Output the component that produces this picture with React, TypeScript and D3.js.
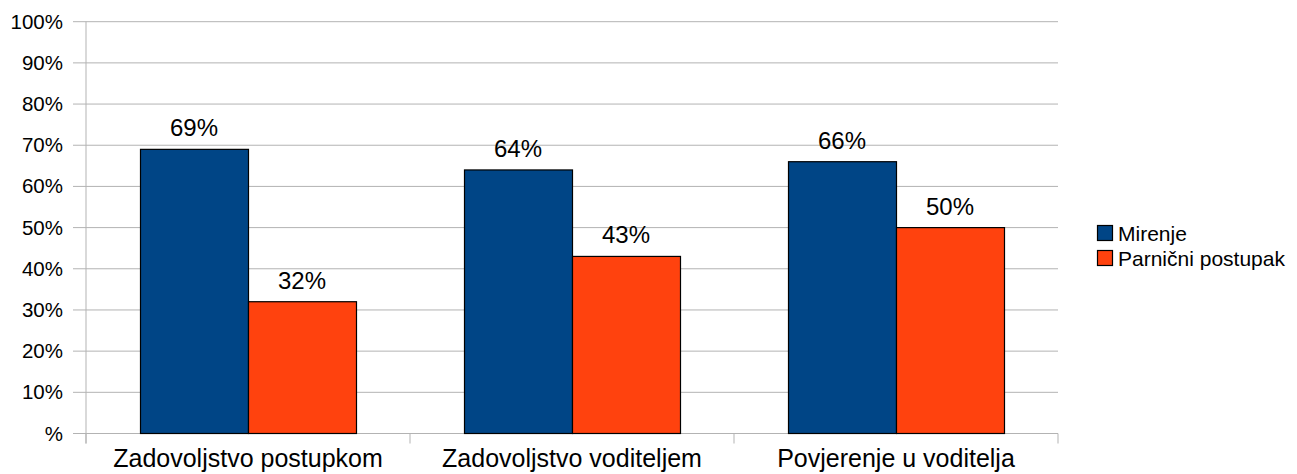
import React, { useRef, useEffect } from "react";
import * as d3 from "d3";

const categories = ["Zadovoljstvo postupkom", "Zadovoljstvo voditeljem", "Povjerenje u voditelja"];
const seriesNames = ["Mirenje", "Parnični postupak"];
const mirenje = [69, 64, 66];
const parnicni = [32, 43, 50];
const yTicks = [0, 10, 20, 30, 40, 50, 60, 70, 80, 90, 100];
const tickLabel = (v: number) => (v === 0 ? "%" : `${v}%`);

const colors = ["#004586", "#ff420e"];
const FONT = "'Liberation Sans', Arial, sans-serif";

const App = () => {
  const svgRef = useRef<SVGSVGElement>(null);

  useEffect(() => {
    const svg = d3.select(svgRef.current);
    svg.selectAll("*").remove();

    const width = 1297;
    const height = 474;
    const left = 86;
    const right = 1058;
    const top = 21.7;
    const bottom = 433.5;
    const grid = "#b3b3b3";

    svg.attr("viewBox", `0 0 ${width} ${height}`);

    const x = d3.scaleBand().domain(categories).range([left, right]);
    const y = d3.scaleLinear().domain([0, 100]).range([bottom, top]);
    const inner = d3
      .scaleBand()
      .domain(seriesNames)
      .range([x.bandwidth() / 6, (x.bandwidth() * 5) / 6]);

    // gridlines + y ticks
    const g = svg.append("g");
    yTicks.forEach((t) => {
      g.append("line")
        .attr("x1", left - 13)
        .attr("x2", right)
        .attr("y1", y(t))
        .attr("y2", y(t))
        .attr("stroke", grid)
        .attr("stroke-width", 1);
      g.append("text")
        .attr("x", 63)
        .attr("y", y(t) + 7)
        .attr("text-anchor", "end")
        .attr("font-family", FONT)
        .attr("font-size", 20.5)
        .attr("fill", "#000")
        .text(tickLabel(t));
    });

    // left axis line
    g.append("line")
      .attr("x1", left)
      .attr("x2", left)
      .attr("y1", top)
      .attr("y2", bottom + 10)
      .attr("stroke", grid);

    // category ticks
    [...categories.map((c) => x(c)!), right].forEach((px) => {
      g.append("line")
        .attr("x1", px)
        .attr("x2", px)
        .attr("y1", bottom)
        .attr("y2", bottom + 10)
        .attr("stroke", grid);
    });

    const series = [mirenje, parnicni];
    series.forEach((vals, si) => {
      vals.forEach((v, ci) => {
        const bx = x(categories[ci])! + inner(seriesNames[si])!;
        g.append("rect")
          .attr("x", bx + 0.5)
          .attr("y", y(v))
          .attr("width", inner.bandwidth())
          .attr("height", bottom - y(v))
          .attr("fill", colors[si])
          .attr("stroke", "#000")
          .attr("stroke-width", 1.2);
        g.append("text")
          .attr("x", bx + inner.bandwidth() / 2)
          .attr("y", y(v) - 13)
          .attr("text-anchor", "middle")
          .attr("font-family", FONT)
          .attr("font-size", 24)
          .attr("fill", "#000")
          .text(`${v}%`);
      });
    });

    // category labels
    categories.forEach((c) => {
      g.append("text")
        .attr("x", x(c)! + x.bandwidth() / 2)
        .attr("y", 467)
        .attr("text-anchor", "middle")
        .attr("font-family", FONT)
        .attr("font-size", 25)
        .attr("fill", "#000")
        .text(c);
    });

    // legend
    const lg = svg.append("g").attr("transform", "translate(1097,225)");
    seriesNames.forEach((s, i) => {
      lg.append("rect")
        .attr("x", 0.5)
        .attr("y", i * 25 + 0.5)
        .attr("width", 15)
        .attr("height", 15)
        .attr("fill", colors[i])
        .attr("stroke", "#000")
        .attr("stroke-width", 1.2);
      lg.append("text")
        .attr("x", 21)
        .attr("y", i * 25 + 16)
        .attr("font-family", FONT)
        .attr("font-size", 21)
        .attr("fill", "#000")
        .text(s);
    });
  }, []);

  return (
    <svg
      ref={svgRef}
      width={1297}
      height={474}
      style={{ position: "absolute", top: 0, left: 0, background: "#fff" }}
    ></svg>
  );
};

export default App;
